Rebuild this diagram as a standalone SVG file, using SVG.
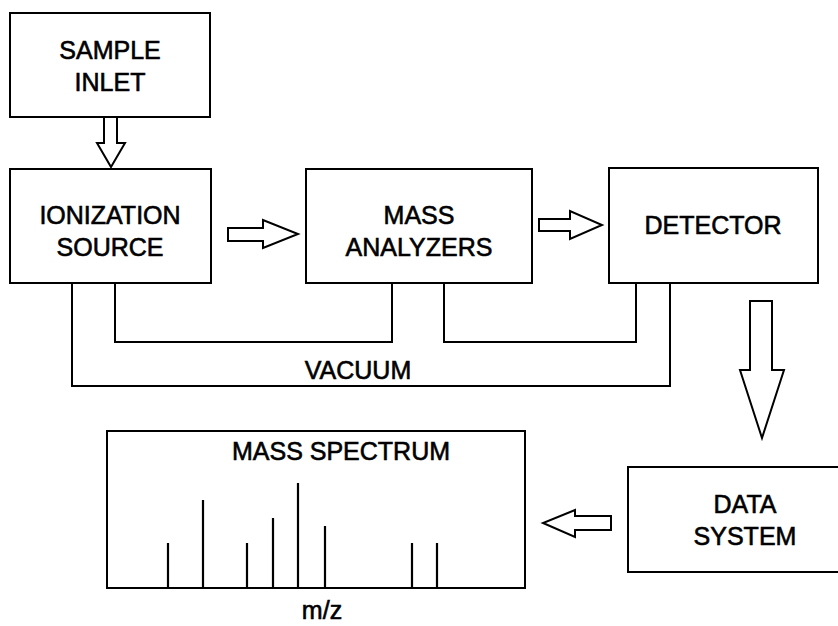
<svg xmlns="http://www.w3.org/2000/svg" width="838" height="626" viewBox="0 0 838 626">
<style>
.box{fill:#fff;stroke:#000;stroke-width:2}
.arr{fill:#fff;stroke:#000;stroke-width:2;stroke-linejoin:miter}
.ln{fill:none;stroke:#000;stroke-width:2}
.pk{fill:none;stroke:#000;stroke-width:2.2}
text{font-family:"Liberation Sans",Arial,sans-serif;font-size:25px;fill:#000;stroke:#000;stroke-width:0.6;text-anchor:middle}
</style>
<rect width="838" height="626" fill="#fff"/>
<g id="connectors">
<path class="ln" d="M115,283 V342 H392 V283"/>
<path class="ln" d="M444,283 V342 H636 V283"/>
<path class="ln" d="M72,283 V386 H670 V283"/>
<text x="358" y="379">VACUUM</text>
<polygon class="arr" points="104,117 117,117 117,143 125,143 111,167 97,143 104,143"/>
<polygon class="arr" points="228,228 263,228 263,220 298,234 263,248 263,241 228,241"/>
<polygon class="arr" points="539,219 570,219 570,211 602,225 570,239 570,231 539,231"/>
<polygon class="arr" points="750,301 772,301 772,370 784,370 762,438 740,370 750,370"/>
<polygon class="arr" points="611,516 575,516 575,510 543,523 575,537 575,530 611,530"/>
</g>
<g id="sample-inlet">
<rect class="box" x="10" y="13" width="200" height="104"/>
<text x="110" y="59">SAMPLE</text>
<text x="110" y="91">INLET</text>
</g>
<g id="ionization-source">
<rect class="box" x="10" y="169" width="201" height="114"/>
<text x="110" y="224">IONIZATION</text>
<text x="110" y="256">SOURCE</text>
</g>
<g id="mass-analyzers">
<rect class="box" x="306" y="169" width="226" height="114"/>
<text x="419" y="224">MASS</text>
<text x="419" y="256">ANALYZERS</text>
</g>
<g id="detector">
<rect class="box" x="609" y="168" width="209" height="115"/>
<text x="713" y="234">DETECTOR</text>
</g>
<g id="data-system">
<rect class="box" x="628" y="467" width="220" height="105"/>
<text x="745" y="513">DATA</text>
<text x="745" y="545">SYSTEM</text>
</g>
<g id="mass-spectrum">
<rect class="box" x="107" y="431" width="418" height="157"/>
<text x="341" y="460">MASS SPECTRUM</text>
<path class="pk" d="M168,588V543M203,588V500M247,588V543M273,588V518M298,588V483M325,588V526M412,588V543M437,588V543"/>
<text x="322" y="619">m/z</text>
</g>
</svg>
